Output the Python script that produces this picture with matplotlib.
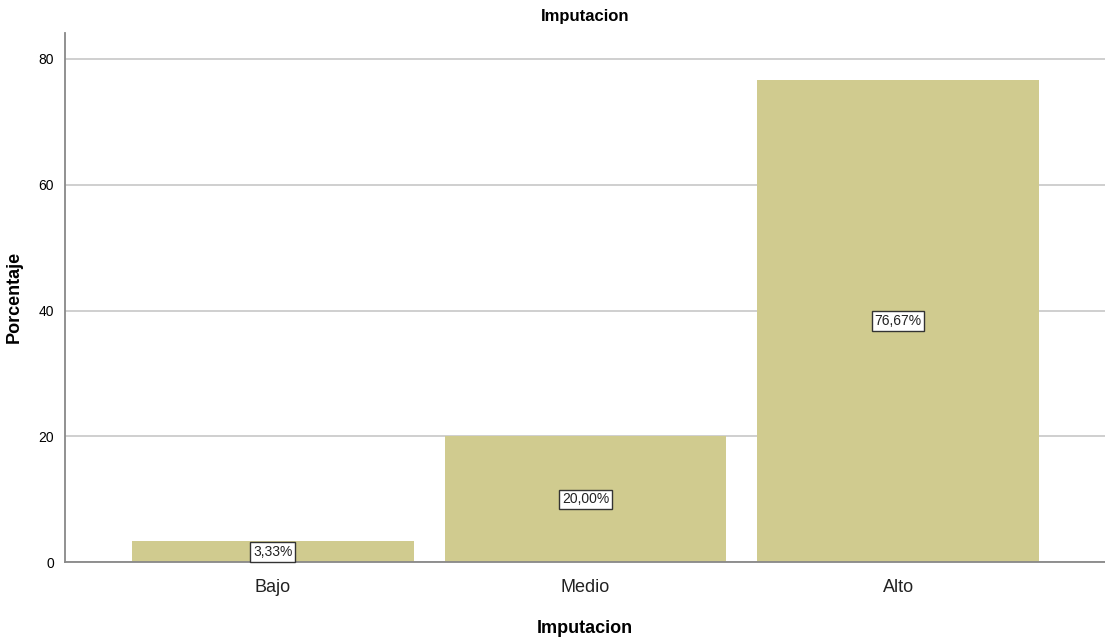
import matplotlib
matplotlib.use("Agg")
import matplotlib.pyplot as plt

categories = ["Bajo", "Medio", "Alto"]
values = [3.33, 20.00, 76.67]
labels = ["3,33%", "20,00%", "76,67%"]
yticks = [0, 20, 40, 60, 80]

plt.rcParams['font.family'] = ['Liberation Sans', 'DejaVu Sans']

fig = plt.figure(figsize=(11.05, 6.41), dpi=100)
ax = fig.add_axes([65/1105, 1 - 562.3/641, 1040/1105, (562.3-32.5)/641])

x = list(range(len(categories)))
ax.bar(x, values, width=0.9, color="#D0CB8F", edgecolor="none", zorder=2)
for xi, v, lab in zip(x, values, labels):
    ax.text(xi, v/2, lab, ha="center", va="center", fontsize=10, color="#222222", zorder=4,
            bbox=dict(boxstyle="square,pad=0.2", facecolor="white", edgecolor="#333333", linewidth=1))

ax.set_xlim(-0.665, 2.662)
ax.set_ylim(0, 84.2)
ax.set_yticks(yticks)
ax.set_xticks(x)
ax.set_xticklabels(categories, fontsize=13, color="#222222")
ax.tick_params(axis="y", labelsize=10, length=0, pad=8)
ax.tick_params(axis="x", length=0, pad=12)
ax.yaxis.grid(True, color="#CCCCCC", linewidth=1.3, zorder=1)
ax.set_axisbelow(True)
for s in ["top", "right"]:
    ax.spines[s].set_visible(False)
for s in ["left", "bottom"]:
    ax.spines[s].set_color("#888888")
    ax.spines[s].set_linewidth(1.3)

ax.set_xlabel("Imputacion", fontsize=13, fontweight="bold", labelpad=17)
ax.set_ylabel("Porcentaje", fontsize=13, fontweight="bold", labelpad=11)
fig.text(585/1105, 1 - 16/641, "Imputacion", ha="center", va="center", fontsize=12, fontweight="bold")

fig.savefig("out.png", dpi=100)
